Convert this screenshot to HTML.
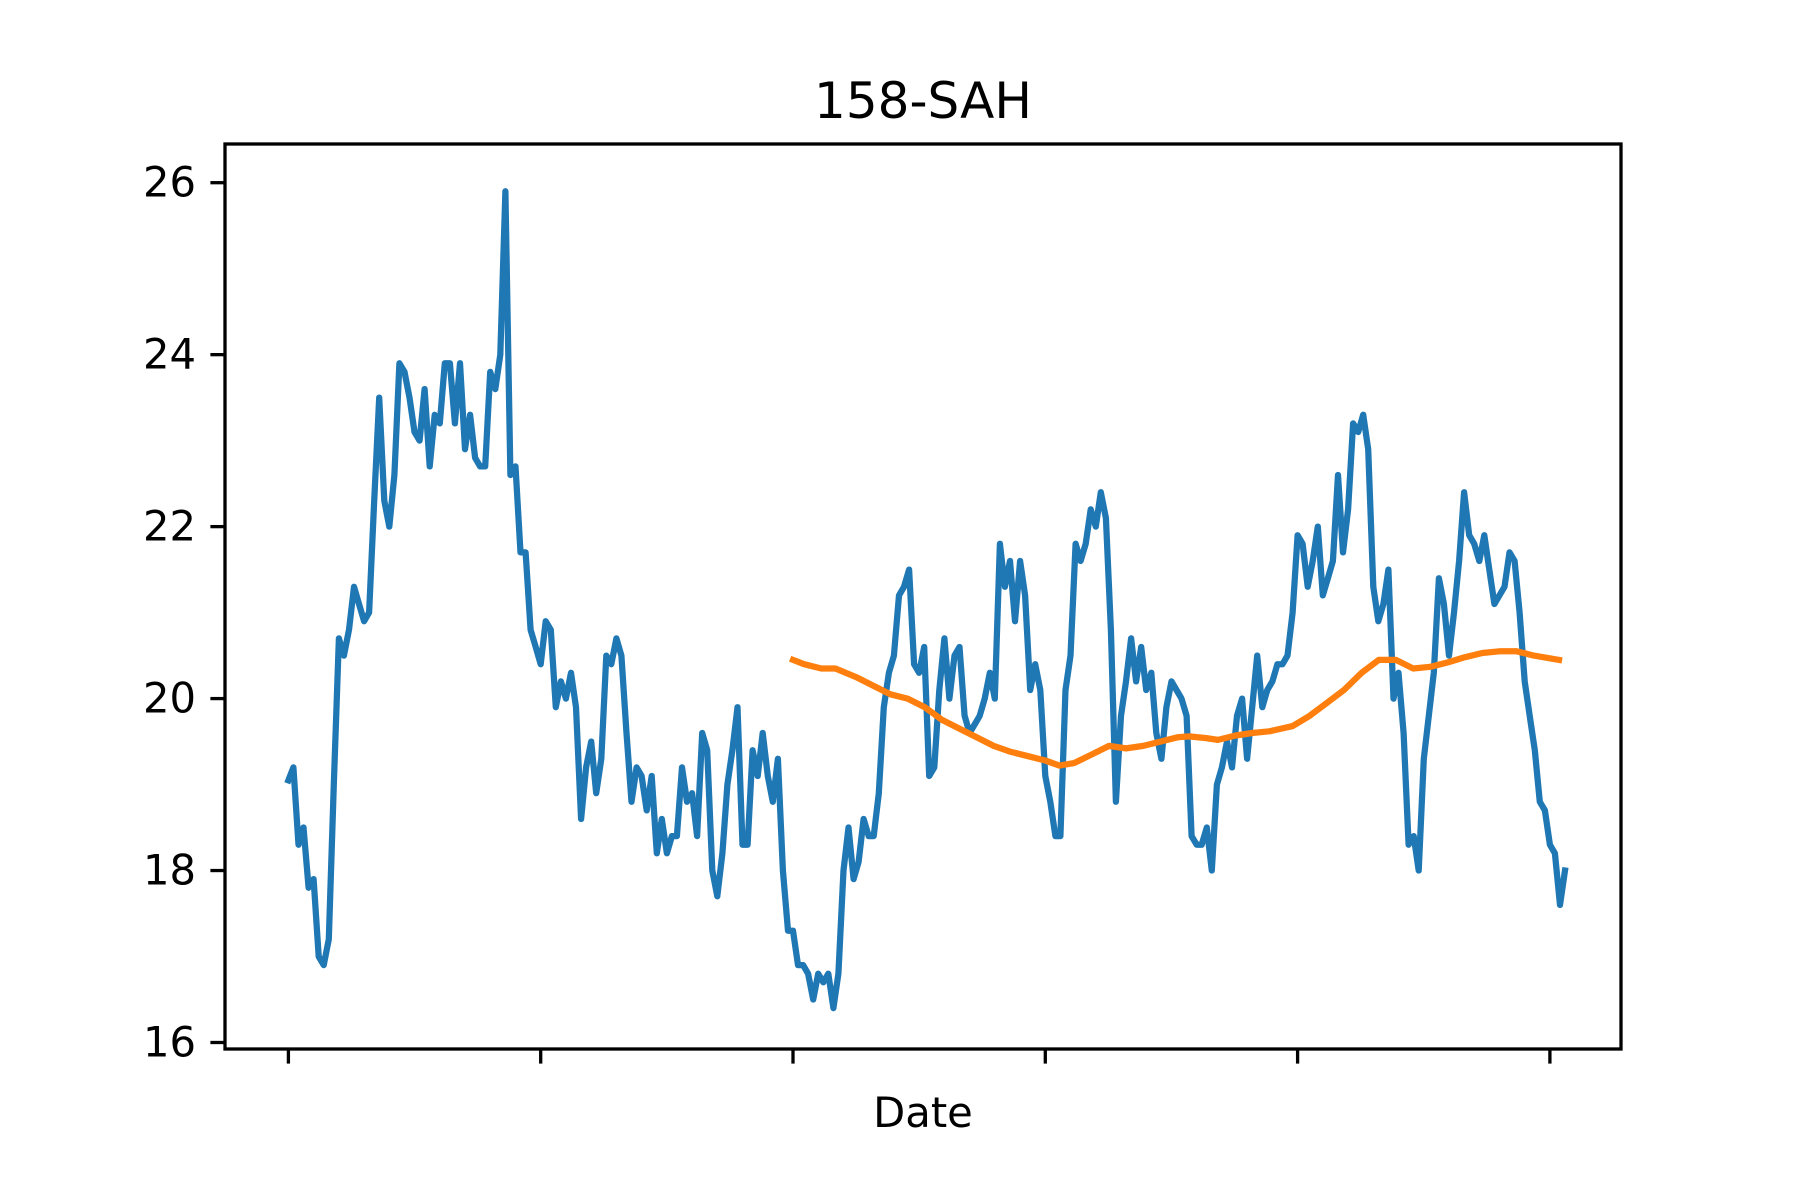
<!DOCTYPE html>
<html><head><meta charset="utf-8"><style>
html,body{margin:0;padding:0;background:#fff;}
svg{display:block;font-family:"DejaVu Sans","Liberation Sans",sans-serif;}
</style></head><body>
<svg id="chart" width="1800" height="1200" viewBox="0 0 1800 1200" xmlns="http://www.w3.org/2000/svg">
<rect x="0" y="0" width="1800" height="1200" fill="#fff"/>
<text x="923" y="118" font-size="50" text-anchor="middle">158-SAH</text>
<g id="plot"></g>
<text x="923" y="1127" font-size="41.7" text-anchor="middle">Date</text>
</svg>
<script>
const priceValues = [19.05,19.2,18.3,18.5,17.8,17.9,17.0,16.9,17.2,19.0,20.7,20.5,
20.8,21.3,21.1,20.9,21.0,22.3,23.5,22.3,22.0,22.6,23.9,23.8,23.5,23.1,23.0,23.6,22.7,23.3,23.2,23.9,23.9,23.2,23.9,22.9,23.3,22.8,22.7,22.7,23.8,23.6,24.0,25.9,22.6,22.7,21.7,21.7,20.8,20.6,20.4,20.9,20.8,19.9,20.2,20.0,20.3,19.9,18.6,19.2,19.5,18.9,19.3,20.5,20.4,20.7,20.5,19.6,18.8,19.2,19.1,18.7,19.1,18.2,18.6,18.2,18.4,18.4,19.2,18.8,18.9,18.4,19.6,19.4,18.0,17.7,18.2,19.0,19.4,19.9,18.3,18.3,19.4,19.1,19.6,19.1,18.8,19.3,18.0,17.3,17.3,16.9,16.9,16.8,16.5,16.8,16.7,16.8,16.4,16.8,18.0,18.5,17.9,18.1,18.6,18.4,18.4,18.9,19.9,20.3,20.5,21.2,21.3,21.5,20.4,20.3,20.6,19.1,19.2,20.1,20.7,20.0,20.5,20.6,19.8,19.6,19.7,19.8,20.0,20.3,20.0,21.8,21.3,21.6,20.9,21.6,21.2,20.1,20.4,20.1,19.1,18.8,18.4,18.4,20.1,20.5,21.8,21.6,21.8,22.2,22.0,22.4,22.1,20.8,18.8,19.8,20.2,20.7,20.2,20.6,20.1,20.3,19.6,19.3,19.9,20.2,20.1,20.0,19.8,18.4,18.3,18.3,18.5,18.0,19.0,19.2,19.5,19.2,19.8,20.0,19.3,19.9,20.5,19.9,20.1,20.2,20.4,20.4,20.5,21.0,21.9,21.8,21.3,21.6,22.0,21.2,21.4,21.6,22.6,21.7,22.2,23.2,23.1,23.3,22.9,21.3,20.9,21.1,21.5,20.0,20.3,19.6,18.3,18.4,18.0,19.3,19.8,20.3,21.4,21.1,20.5,21.0,21.6,22.4,21.9,21.8,21.6,21.9,21.5,21.1,21.2,21.3,21.7,21.6,21.0,20.2,19.8,19.4,18.8,18.7,18.3,18.2,17.6,18.0];
const maIndex = [100,102.2,105.6,108.4,112.5,115.9,119.3,122.7,126.1,129.6,133,136.4,139.8,143.2,146.6,150,152.8,155.7,159.2,162.6,166,169.4,172.8,176.2,178.5,181.9,184.2,187.6,191,194.4,199,202.4,205.8,209.2,212.7,216.1,219.5,222.9,226.3,229.7,233.1,236.6,240,243.4,246.8,251.8];
const maValues = [20.45,20.4,20.35,20.35,20.25,20.15,20.05,20.0,19.9,19.75,19.65,19.55,19.45,19.38,19.33,19.28,19.22,19.25,19.35,19.45,19.42,19.45,19.5,19.55,19.56,19.54,19.52,19.57,19.6,19.62,19.68,19.8,19.95,20.1,20.3,20.45,20.45,20.35,20.37,20.42,20.48,20.53,20.55,20.55,20.5,20.45];
const xTicks = [0,50,100,150,200,250];
const yTicks = [16,18,20,22,24,26];
const yTickLabels = ["16","18","20","22","24","26"];

const NS="http://www.w3.org/2000/svg";
const AX={l:225,r:1621,t:144,b:1049};
function xs(i){return 288.4+i*5.046;}
function ys(v){return 1042.5-(v-16)*85.98;}
const plot=document.getElementById('plot');
function mk(tag,attrs){const e=document.createElementNS(NS,tag);for(const k in attrs)e.setAttribute(k,attrs[k]);plot.appendChild(e);return e;}

const blue=mk('path',{d:priceValues.map((v,i)=>(i?'L':'M')+xs(i).toFixed(1)+' '+ys(v).toFixed(1)).join(' '),fill:'none',stroke:'#1f77b4','stroke-width':6.25,'stroke-linejoin':'round','stroke-linecap':'square'});


const orange=mk('path',{d:maValues.map((v,i)=>(i?'L':'M')+xs(maIndex[i]).toFixed(1)+' '+ys(v).toFixed(1)).join(' '),fill:'none',stroke:'#ff7f0e','stroke-width':6.25,'stroke-linejoin':'round','stroke-linecap':'square'});



const frame=mk('rect',{x:AX.l,y:AX.t,width:AX.r-AX.l,height:AX.b-AX.t,fill:'none',stroke:'#000','stroke-width':3.3});



xTicks.forEach(t=>{
  const tk=mk('line',{x1:xs(t),x2:xs(t),y1:AX.b,y2:AX.b+14.6,stroke:'#000','stroke-width':3.3});
  
  
});
yTicks.forEach((t,i)=>{
  const tk=mk('line',{x1:AX.l-14.6,x2:AX.l,y1:ys(t),y2:ys(t),stroke:'#000','stroke-width':3.3});
  
  
  const lb=mk('text',{x:AX.l-29,y:ys(t)+14,'font-size':41.7,'text-anchor':'end'});
  lb.textContent=yTickLabels[i];
  
  
});
</script>
</body></html>
